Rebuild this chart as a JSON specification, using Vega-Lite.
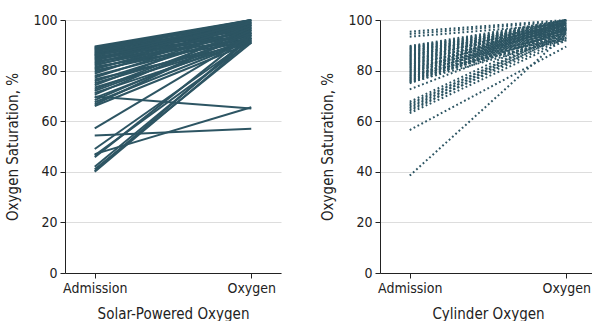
{
  "$schema": "https://vega.github.io/schema/vega-lite/v6.json",
  "padding": {"left": 5, "top": 13, "right": 0, "bottom": 0},
  "spacing": 39,
  "config": {
    "font": "DejaVu Sans Condensed, Roboto, sans-serif",
    "view": {"stroke": null},
    "axis": {
      "labelFont": "DejaVu Sans Condensed, Roboto, sans-serif",
      "titleFont": "DejaVu Sans Condensed, Roboto, sans-serif",
      "labelFontSize": 14,
      "titleFontSize": 15,
      "titleFontWeight": "normal",
      "labelColor": "#222222",
      "titleColor": "#222222",
      "domainColor": "#222222",
      "tickColor": "#222222",
      "gridColor": "#dddddd",
      "tickSize": 5
    },
    "axisY": {"titlePadding": 12, "labelPadding": 3},
    "axisX": {"titlePadding": 11, "labelPadding": 3}
  },
  "datasets": {
    "solar": [
      {"id": 1, "Admission": 89.5, "Oxygen": 100},
      {"id": 2, "Admission": 89.2, "Oxygen": 99},
      {"id": 3, "Admission": 89.0, "Oxygen": 98.5},
      {"id": 4, "Admission": 88.7, "Oxygen": 100},
      {"id": 5, "Admission": 88.5, "Oxygen": 97},
      {"id": 6, "Admission": 88.2, "Oxygen": 99.5},
      {"id": 7, "Admission": 88.0, "Oxygen": 96},
      {"id": 8, "Admission": 87.7, "Oxygen": 98},
      {"id": 9, "Admission": 87.5, "Oxygen": 100},
      {"id": 10, "Admission": 87.2, "Oxygen": 95},
      {"id": 11, "Admission": 87.0, "Oxygen": 99},
      {"id": 12, "Admission": 86.7, "Oxygen": 97.5},
      {"id": 13, "Admission": 86.5, "Oxygen": 94},
      {"id": 14, "Admission": 86.2, "Oxygen": 98.5},
      {"id": 15, "Admission": 86.0, "Oxygen": 96.5},
      {"id": 16, "Admission": 85.7, "Oxygen": 100},
      {"id": 17, "Admission": 85.4, "Oxygen": 93.5},
      {"id": 18, "Admission": 85.0, "Oxygen": 97},
      {"id": 19, "Admission": 84.7, "Oxygen": 99},
      {"id": 20, "Admission": 84.4, "Oxygen": 95.5},
      {"id": 21, "Admission": 84.0, "Oxygen": 98},
      {"id": 22, "Admission": 83.6, "Oxygen": 92.5},
      {"id": 23, "Admission": 83.2, "Oxygen": 96},
      {"id": 24, "Admission": 82.8, "Oxygen": 99.5},
      {"id": 25, "Admission": 82.4, "Oxygen": 94.5},
      {"id": 26, "Admission": 82.0, "Oxygen": 97.5},
      {"id": 27, "Admission": 81.5, "Oxygen": 91.5},
      {"id": 28, "Admission": 81.0, "Oxygen": 95},
      {"id": 29, "Admission": 80.5, "Oxygen": 98},
      {"id": 30, "Admission": 80.0, "Oxygen": 93},
      {"id": 31, "Admission": 79.4, "Oxygen": 96.5},
      {"id": 32, "Admission": 78.8, "Oxygen": 99},
      {"id": 33, "Admission": 78.0, "Oxygen": 94},
      {"id": 34, "Admission": 77.3, "Oxygen": 97},
      {"id": 35, "Admission": 76.5, "Oxygen": 91},
      {"id": 36, "Admission": 75.8, "Oxygen": 95.5},
      {"id": 37, "Admission": 75.0, "Oxygen": 93},
      {"id": 38, "Admission": 74.2, "Oxygen": 98},
      {"id": 39, "Admission": 73.3, "Oxygen": 92},
      {"id": 40, "Admission": 72.6, "Oxygen": 96},
      {"id": 41, "Admission": 72.0, "Oxygen": 94.5},
      {"id": 42, "Admission": 71.2, "Oxygen": 91.5},
      {"id": 43, "Admission": 70.5, "Oxygen": 97},
      {"id": 44, "Admission": 69.8, "Oxygen": 65},
      {"id": 45, "Admission": 69.2, "Oxygen": 93},
      {"id": 46, "Admission": 68.3, "Oxygen": 95},
      {"id": 47, "Admission": 67.5, "Oxygen": 92},
      {"id": 48, "Admission": 66.6, "Oxygen": 96},
      {"id": 49, "Admission": 66.0, "Oxygen": 91},
      {"id": 50, "Admission": 57.2, "Oxygen": 94},
      {"id": 51, "Admission": 54.3, "Oxygen": 57},
      {"id": 52, "Admission": 49.0, "Oxygen": 92.5},
      {"id": 53, "Admission": 47.0, "Oxygen": 65.5},
      {"id": 54, "Admission": 46.5, "Oxygen": 91.5},
      {"id": 55, "Admission": 45.8, "Oxygen": 95},
      {"id": 56, "Admission": 42.0, "Oxygen": 93},
      {"id": 57, "Admission": 41.0, "Oxygen": 91},
      {"id": 58, "Admission": 40.3, "Oxygen": 94},
      {"id": 59, "Admission": 40.0, "Oxygen": 92}
    ],
    "cylinder": [
      {"id": 1, "Admission": 95.4, "Oxygen": 100},
      {"id": 2, "Admission": 94.5, "Oxygen": 99.5},
      {"id": 3, "Admission": 93.4, "Oxygen": 98.5},
      {"id": 4, "Admission": 89.7, "Oxygen": 100},
      {"id": 5, "Admission": 89.4, "Oxygen": 99},
      {"id": 6, "Admission": 89.1, "Oxygen": 98},
      {"id": 7, "Admission": 88.8, "Oxygen": 100},
      {"id": 8, "Admission": 88.5, "Oxygen": 97.5},
      {"id": 9, "Admission": 88.2, "Oxygen": 99.5},
      {"id": 10, "Admission": 87.9, "Oxygen": 96.5},
      {"id": 11, "Admission": 87.6, "Oxygen": 98.5},
      {"id": 12, "Admission": 87.3, "Oxygen": 100},
      {"id": 13, "Admission": 87.0, "Oxygen": 97},
      {"id": 14, "Admission": 86.7, "Oxygen": 99},
      {"id": 15, "Admission": 86.4, "Oxygen": 95.5},
      {"id": 16, "Admission": 86.1, "Oxygen": 98},
      {"id": 17, "Admission": 85.8, "Oxygen": 100},
      {"id": 18, "Admission": 85.5, "Oxygen": 96.5},
      {"id": 19, "Admission": 85.2, "Oxygen": 99},
      {"id": 20, "Admission": 84.9, "Oxygen": 97.5},
      {"id": 21, "Admission": 84.6, "Oxygen": 94.5},
      {"id": 22, "Admission": 84.3, "Oxygen": 98.5},
      {"id": 23, "Admission": 84.0, "Oxygen": 96},
      {"id": 24, "Admission": 83.7, "Oxygen": 100},
      {"id": 25, "Admission": 83.4, "Oxygen": 97},
      {"id": 26, "Admission": 83.1, "Oxygen": 93.5},
      {"id": 27, "Admission": 82.8, "Oxygen": 99},
      {"id": 28, "Admission": 82.5, "Oxygen": 95.5},
      {"id": 29, "Admission": 82.2, "Oxygen": 98},
      {"id": 30, "Admission": 81.9, "Oxygen": 96.5},
      {"id": 31, "Admission": 81.6, "Oxygen": 92.5},
      {"id": 32, "Admission": 81.3, "Oxygen": 99.5},
      {"id": 33, "Admission": 81.0, "Oxygen": 97},
      {"id": 34, "Admission": 80.7, "Oxygen": 94.5},
      {"id": 35, "Admission": 80.4, "Oxygen": 98.5},
      {"id": 36, "Admission": 80.1, "Oxygen": 96},
      {"id": 37, "Admission": 79.8, "Oxygen": 93},
      {"id": 38, "Admission": 79.5, "Oxygen": 100},
      {"id": 39, "Admission": 79.2, "Oxygen": 97.5},
      {"id": 40, "Admission": 78.9, "Oxygen": 95},
      {"id": 41, "Admission": 78.6, "Oxygen": 99},
      {"id": 42, "Admission": 78.3, "Oxygen": 92},
      {"id": 43, "Admission": 78.0, "Oxygen": 96.5},
      {"id": 44, "Admission": 77.7, "Oxygen": 98},
      {"id": 45, "Admission": 77.4, "Oxygen": 94},
      {"id": 46, "Admission": 77.1, "Oxygen": 99.5},
      {"id": 47, "Admission": 76.8, "Oxygen": 96},
      {"id": 48, "Admission": 76.5, "Oxygen": 93},
      {"id": 49, "Admission": 76.2, "Oxygen": 98.5},
      {"id": 50, "Admission": 75.9, "Oxygen": 95},
      {"id": 51, "Admission": 75.6, "Oxygen": 97},
      {"id": 52, "Admission": 75.3, "Oxygen": 92.5},
      {"id": 53, "Admission": 75.0, "Oxygen": 96},
      {"id": 54, "Admission": 72.6, "Oxygen": 96.5},
      {"id": 55, "Admission": 67.7, "Oxygen": 97},
      {"id": 56, "Admission": 67.0, "Oxygen": 95},
      {"id": 57, "Admission": 66.4, "Oxygen": 96},
      {"id": 58, "Admission": 65.8, "Oxygen": 94},
      {"id": 59, "Admission": 65.2, "Oxygen": 95.5},
      {"id": 60, "Admission": 64.6, "Oxygen": 93},
      {"id": 61, "Admission": 64.0, "Oxygen": 94.5},
      {"id": 62, "Admission": 63.2, "Oxygen": 92},
      {"id": 63, "Admission": 56.5, "Oxygen": 89.5},
      {"id": 64, "Admission": 38.5, "Oxygen": 94.5}
    ]
  },
  "hconcat": [
    {
      "width": 216,
      "height": 253,
      "data": {"name": "solar"},
      "transform": [{"fold": ["Admission", "Oxygen"], "as": ["time", "sat"]}],
      "mark": {"type": "line", "strokeWidth": 2, "color": "#2d5563"},
      "encoding": {
        "x": {"field": "time", "type": "ordinal", "scale": {"type": "point", "padding": 0.19}, "axis": {"title": "Solar-Powered Oxygen", "labelAngle": 0, "grid": false}},
        "y": {"field": "sat", "type": "quantitative", "scale": {"domain": [0, 100]}, "axis": {"title": "Oxygen Saturation, %", "values": [0, 20, 40, 60, 80, 100], "grid": true}},
        "detail": {"field": "id", "type": "nominal"}
      }
    },
    {
      "width": 216,
      "height": 253,
      "data": {"name": "cylinder"},
      "transform": [{"fold": ["Admission", "Oxygen"], "as": ["time", "sat"]}],
      "mark": {"type": "line", "strokeWidth": 2, "color": "#2d5563", "strokeDash": [1.8, 2.6]},
      "encoding": {
        "x": {"field": "time", "type": "ordinal", "scale": {"type": "point", "padding": 0.19}, "axis": {"title": "Cylinder Oxygen", "labelAngle": 0, "grid": false}},
        "y": {"field": "sat", "type": "quantitative", "scale": {"domain": [0, 100]}, "axis": {"title": "Oxygen Saturation, %", "values": [0, 20, 40, 60, 80, 100], "grid": true}},
        "detail": {"field": "id", "type": "nominal"}
      }
    }
  ]
}
